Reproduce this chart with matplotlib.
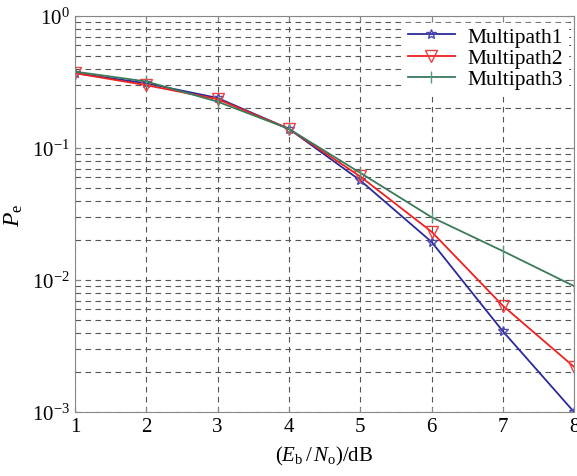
import matplotlib
matplotlib.use("Agg")
import matplotlib.pyplot as plt
from matplotlib.ticker import LogLocator, NullFormatter

plt.rcParams['font.family'] = ['Liberation Serif', 'DejaVu Serif']
plt.rcParams['mathtext.fontset'] = 'custom'
plt.rcParams['mathtext.rm'] = 'Liberation Serif'
plt.rcParams['mathtext.it'] = 'Liberation Serif:italic'

snr = [1, 2, 3, 4, 5, 6, 7, 8]
multipath1 = [0.37, 0.31, 0.24, 0.14, 0.057, 0.0195, 0.0041, 0.0010]
multipath2 = [0.37, 0.30, 0.235, 0.14, 0.061, 0.0233, 0.0064, 0.0022]
multipath3 = [0.38, 0.32, 0.225, 0.14, 0.065, 0.030, 0.0166, 0.0090]
labels = ['Multipath1', 'Multipath2', 'Multipath3']

fig = plt.figure(figsize=(5.77, 4.77), dpi=100)
ax = fig.add_axes([0.130, 0.134, 0.865, 0.830])

ax.plot(snr, multipath1, color='#2a2a9a', marker='*', markersize=7, markerfacecolor='none',
        markeredgecolor='#4a4ab0', lw=1.3, label=labels[0])
ax.plot(snr, multipath2, color='#ee2020', marker='v', markersize=9, markerfacecolor='none',
        markeredgecolor='#ee4040', lw=1.3, label=labels[1])
ax.plot(snr, multipath3, color='#3a7a5a', marker='|', markersize=8,
        markeredgecolor='#5a9a7a', lw=1.3, label=labels[2])

ax.set_yscale('log')
ax.set_xlim(1, 8)
ax.set_ylim(1e-3, 1)
ax.set_xticks(snr)
ax.yaxis.set_major_locator(LogLocator(base=10, numticks=10))
ax.yaxis.set_minor_locator(LogLocator(base=10, subs=range(2, 10), numticks=20))
ax.yaxis.set_minor_formatter(NullFormatter())

ax.grid(True, which='major', linestyle=(0, (5, 4)), color='#555555', lw=0.8)
ax.grid(True, which='minor', axis='y', linestyle=(0, (5, 4)), color='#555555', lw=0.8)

for s in ax.spines.values():
    s.set_color('#888888')
ax.tick_params(which='both', direction='in', top=True, right=True, colors='#888888',
               labelcolor='black', labelsize=15)
ax.tick_params(which='minor', length=0)

ax.set_xlabel(r'$(\mathit{E}_{\mathrm{b}}\,/\,\mathit{N}_{\mathrm{o}})/\mathrm{dB}$', fontsize=15, labelpad=6)
ax.set_ylabel(r'$\mathit{P}_{\mathrm{e}}$', fontsize=17)
ax.yaxis.set_label_coords(-0.10, 0.5)

leg = ax.legend(loc='upper right', fontsize=15.5, frameon=True, fancybox=False,
                edgecolor='white', framealpha=1, handlelength=2.2, borderaxespad=0.3,
                labelspacing=0.05, borderpad=0.2, handletextpad=0.6)

fig.savefig('out.png', dpi=100)
